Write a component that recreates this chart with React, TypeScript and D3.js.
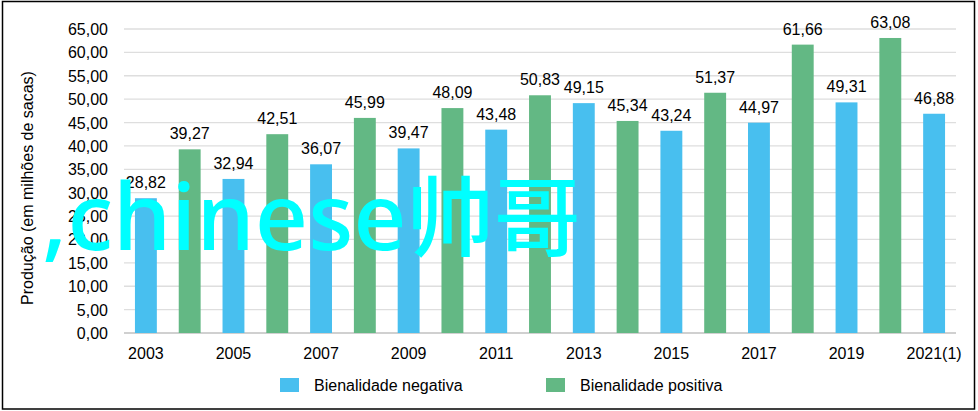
import React from "react";
import * as d3 from "d3";

const years = ["2003","2004","2005","2006","2007","2008","2009","2010","2011","2012","2013","2014","2015","2016","2017","2018","2019","2020","2021(1)"];
const values = [28.82,39.27,32.94,42.51,36.07,45.99,39.47,48.09,43.48,50.83,49.15,45.34,43.24,51.37,44.97,61.66,49.31,63.08,46.88];
const series = ["neg","pos","neg","pos","neg","pos","neg","pos","neg","pos","neg","pos","neg","pos","neg","pos","neg","pos","neg"];
const yTicks = [0,5,10,15,20,25,30,35,40,45,50,55,60,65];
const xTickLabels = ["2003","2005","2007","2009","2011","2013","2015","2017","2019","2021(1)"];
const legendLabels = ["Bienalidade negativa","Bienalidade positiva"];
const yTitle = "Produção (em milhões de sacas)";
const watermarkLatin = ",chinese";
const watermarkCJK = "帅哥";

const W = 978, H = 411;
const colors: Record<string,string> = { neg: "#48BFEF", pos: "#63B884" };
const fmt = (v: number) => v.toFixed(2).replace(".", ",");

export default function App() {
  const x = d3.scaleBand<string>().domain(years).range([124, 956]).paddingInner(0.5).paddingOuter(0.25);
  const y = d3.scaleLinear().domain([0, 65]).range([333, 29]);
  const font = "Liberation Sans, Arial, sans-serif";
  return (
    <div style={{ position: "absolute", left: 0, top: 0 }}>
      <svg width={W} height={H} style={{ display: "block" }}>
        <rect x={0} y={0} width={W} height={H} fill="#fff" />
        <rect x={2.5} y={1.5} width={972} height={407.5} fill="none" stroke="#000" strokeWidth={1.5} />
        {yTicks.map((t) => (
          <line key={t} x1={124} x2={956} y1={y(t)} y2={y(t)} stroke={t === 0 ? "#d0d0d0" : "#dedede"} strokeWidth={t === 0 ? 2 : 1.3} />
        ))}
        {years.map((yr, i) => (
          <rect key={yr} x={x(yr)} y={y(values[i])} width={x.bandwidth()} height={y(0) - y(values[i])} fill={colors[series[i]]} />
        ))}
        {years.map((yr, i) => (
          <text key={yr} x={(x(yr) as number) + x.bandwidth() / 2} y={y(values[i]) - 10} textAnchor="middle" fontFamily={font} fontSize={16} fill="#000">
            {fmt(values[i])}
          </text>
        ))}
        {yTicks.map((t) => (
          <text key={t} x={108} y={y(t) + 6} textAnchor="end" fontFamily={font} fontSize={16} fill="#000">
            {fmt(t)}
          </text>
        ))}
        {xTickLabels.map((l) => (
          <text key={l} x={(x(l) as number) + x.bandwidth() / 2} y={359} textAnchor="middle" fontFamily={font} fontSize={16} fill="#000">
            {l}
          </text>
        ))}
        <text transform="translate(33,188) rotate(-90)" textAnchor="middle" fontFamily={font} fontSize={16} fill="#000">
          {yTitle}
        </text>
        {legendLabels.map((l, i) => (
          <g key={l} transform={`translate(${i === 0 ? 280 : 546},378)`}>
            <rect x={0} y={0} width={19} height={14} fill={colors[i === 0 ? "neg" : "pos"]} />
            <text x={34} y={12.5} fontFamily={font} fontSize={16} fill="#000">{l}</text>
          </g>
        ))}
        <text x={42} y={250} fontFamily="'Noto Sans', 'Noto Sans CJK SC', sans-serif" fontWeight={500} fill="#00FFFF">
          <tspan fontSize={93}>{watermarkLatin}</tspan>
          <tspan fontSize={87} fontFamily="'Noto Sans CJK SC', sans-serif" fontWeight={500}>{watermarkCJK}</tspan>
        </text>
      </svg>
    </div>
  );
}
